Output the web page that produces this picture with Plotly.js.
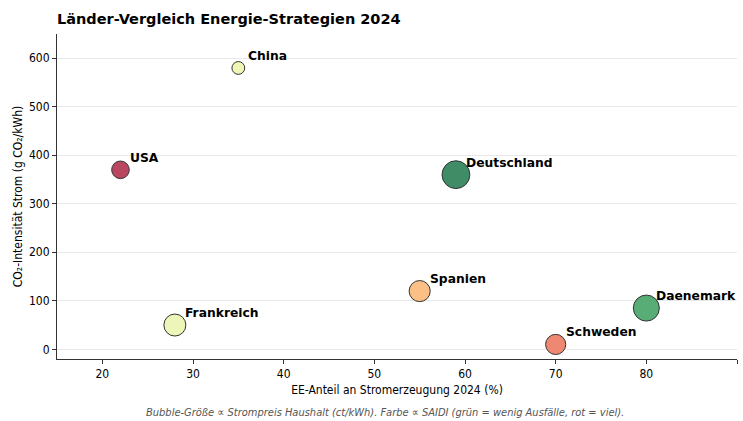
<!DOCTYPE html>
<html>
<head>
<meta charset="utf-8">
<script src="https://cdn.plot.ly/plotly-3.0.1.min.js"></script>
<style>html,body{margin:0;padding:0;background:#fff;}#chart{width:743px;height:421px;}</style>
</head>
<body>
<div id="chart"></div>
<script>
// Data
const countries = ["China", "USA", "Frankreich", "Spanien", "Schweden", "Deutschland", "Daenemark"];
const eeShare   = [35, 22, 28, 55, 70, 59, 80];          // % EE-Anteil
const co2       = [580, 370, 50, 120, 10, 360, 85];       // g CO2/kWh
const price     = [8.5, 16, 25, 23, 21, 40, 35];          // ct/kWh (bubble size)
const xTicks    = [20, 30, 40, 50, 60, 70, 80, 90];
const yTicks    = [0, 100, 200, 300, 400, 500, 600];

// Styles (colour ~ SAIDI, green = few outages, red = many)
const bubbleColors = ["#eef5b5", "#b8475f", "#eef5b8", "#fcc087", "#ee8870", "#408c66", "#58ac76"];

const sizes = price.map(p => 4.4 * Math.sqrt(p));

const condensed = "DejaVu Sans Condensed, Liberation Sans Narrow, DejaVu Sans, sans-serif";

const trace = {
  type: "scatter",
  mode: "markers",
  x: eeShare,
  y: co2,
  text: countries,
  marker: {
    size: sizes,
    sizemode: "diameter",
    color: bubbleColors,
    opacity: 1,
    line: {color: "#333333", width: 1}
  },
  hoverinfo: "text",
  cliponaxis: false
};

const labelAnn = countries.map((c, i) => ({
  x: eeShare[i], y: co2[i], xref: "x", yref: "y",
  text: "<b>" + c + "</b>", showarrow: false,
  xanchor: "left", yanchor: "middle",
  xshift: 8, yshift: 12,
  font: {family: "DejaVu Sans, sans-serif", size: 12.3, color: "#000"}
}));

const layout = {
  width: 743, height: 421,
  margin: {l: 57, r: 6, t: 34, b: 62},
  paper_bgcolor: "#ffffff",
  plot_bgcolor: "#ffffff",
  showlegend: false,
  title: {
    text: "<b>Länder-Vergleich Energie-Strategien 2024</b>",
    x: 57/743, xanchor: "left", xref: "container",
    y: 1 - 19/421, yanchor: "middle", yref: "container",
    font: {family: "DejaVu Sans, sans-serif", size: 14.5, color: "#000"}
  },
  xaxis: {
    range: [15, 90],
    tickvals: xTicks,
    ticks: "outside", ticklen: 4, tickcolor: "#333",
    showgrid: false, zeroline: false,
    showline: true, linecolor: "#333", linewidth: 1,
    tickfont: {family: condensed, size: 12, color: "#000"},
    title: {text: "EE-Anteil an Stromerzeugung 2024 (%)", standoff: 5,
            font: {family: condensed, size: 12, color: "#000"}}
  },
  yaxis: {
    range: [-20, 650],
    tickvals: yTicks,
    ticks: "outside", ticklen: 4, tickcolor: "#333",
    showgrid: true, gridcolor: "#e8e8e8", gridwidth: 1,
    zeroline: false,
    showline: true, linecolor: "#333", linewidth: 1,
    tickfont: {family: condensed, size: 12, color: "#000"},
    title: {text: "CO₂-Intensität Strom (g CO₂/kWh)", standoff: 3,
            font: {family: condensed, size: 12, color: "#000"}}
  },
  annotations: labelAnn.concat([{
    xref: "paper", yref: "paper",
    x: (385 - 57) / 680, y: (359 - 412) / 325,
    xanchor: "center", yanchor: "middle",
    showarrow: false,
    text: "<i>Bubble-Größe ∝ Strompreis Haushalt (ct/kWh). Farbe ∝ SAIDI (grün = wenig Ausfälle, rot = viel).</i>",
    font: {family: condensed, size: 11, color: "#555555"}
  }])
};

Plotly.newPlot("chart", [trace], layout, {displayModeBar: false, staticPlot: true});
</script>
</body>
</html>
